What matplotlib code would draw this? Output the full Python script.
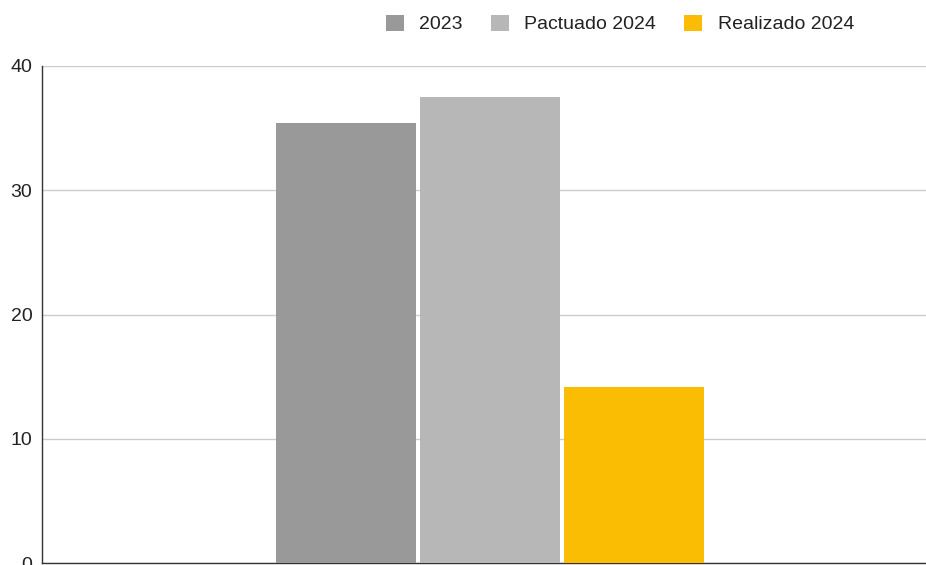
import matplotlib.pyplot as plt

plt.rcParams["font.family"] = ["Liberation Sans", "DejaVu Sans"]

series = ["2023", "Pactuado 2024", "Realizado 2024"]
values = [35.4, 37.5, 14.2]
colors = ["#999999", "#b7b7b7", "#fbbc04"]
y_ticks = [0, 10, 20, 30, 40]

fig = plt.figure(figsize=(9.26, 5.65), dpi=100)
fig.patch.set_facecolor("white")
ax = fig.add_axes([42 / 926, 2 / 565, 884 / 926, 497 / 565])

# one category, three bars side by side
width = 0.3
step = 0.309
offsets = [-step, 0, step]
bars = ax.bar(offsets, values, width=width, color=colors, edgecolor="none", zorder=3)

ax.set_xlim(-0.96, 0.934)
ax.set_ylim(0, 40)
ax.set_yticks(y_ticks)
ax.set_xticks([])
ax.yaxis.grid(True, color="#cccccc", linewidth=1.0)
ax.set_axisbelow(True)
ax.tick_params(axis="y", length=0, pad=7, labelsize=14, labelcolor="#222222")

for side in ["top", "right"]:
    ax.spines[side].set_visible(False)
ax.spines["left"].set_color("#333333")
ax.spines["bottom"].set_color("#333333")
ax.spines["left"].set_linewidth(1.0)
ax.spines["bottom"].set_linewidth(1.0)

fig.legend(
    bars, series,
    loc="center", bbox_to_anchor=(620 / 926, 1 - 24 / 565),
    ncol=3, frameon=False, fontsize=14,
    handlelength=0.92, handleheight=0.92, handletextpad=0.8,
    columnspacing=1.45, labelcolor="#222222",
)

fig.savefig("out.png", dpi=100, facecolor="white")
